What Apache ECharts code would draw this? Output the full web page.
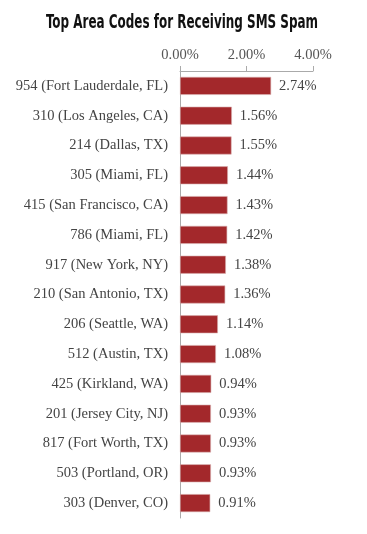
<!DOCTYPE html>
<html><head><meta charset="utf-8">
<script src="https://cdn.jsdelivr.net/npm/echarts@6/dist/echarts.min.js"></script>
<style>html,body{margin:0;padding:0;background:#fff}#c{width:367px;height:534px}</style>
</head><body><div id="c"></div>
<script>
const categories = ["954 (Fort Lauderdale, FL)","310 (Los Angeles, CA)","214 (Dallas, TX)","305 (Miami, FL)","415 (San Francisco, CA)","786 (Miami, FL)","917 (New York, NY)","210 (San Antonio, TX)","206 (Seattle, WA)","512 (Austin, TX)","425 (Kirkland, WA)","201 (Jersey City, NJ)","817 (Fort Worth, TX)","503 (Portland, OR)","303 (Denver, CO)"];
const values = [2.74,1.56,1.55,1.44,1.43,1.42,1.38,1.36,1.14,1.08,0.94,0.93,0.93,0.93,0.91];
const ticks = [0,2,4];
const font = "'Liberation Serif', 'DejaVu Serif', serif";
const chart = echarts.init(document.getElementById('c'));
chart.setOption({
  animation:false,
  graphic:[{type:'text',x:182,y:23,scaleX:0.7,scaleY:1,
    style:{text:"Top Area Codes for Receiving SMS Spam",align:'center',verticalAlign:'middle',
      font:"bold 19px 'DejaVu Sans Condensed','DejaVu Sans',sans-serif",fill:'#111'}}],
  grid:{left:180,right:54,top:71,bottom:16,containLabel:false},
  xAxis:{type:'value',position:'top',min:0,max:4,interval:2,
    axisLine:{show:true,lineStyle:{color:'#aaa'}},
    axisTick:{show:true,length:5,lineStyle:{color:'#aaa'}},
    splitLine:{show:false},
    axisLabel:{formatter:v=>v.toFixed(2)+'%',fontFamily:font,fontSize:14.5,color:'#555',margin:8}},
  yAxis:{type:'category',inverse:true,data:categories,
    axisLine:{show:true,lineStyle:{color:'#aaa'}},axisTick:{show:false},
    axisLabel:{fontFamily:font,fontSize:14.5,color:'#444',margin:12}},
  series:[{type:'bar',data:values,barWidth:18,
    itemStyle:{color:'#A3282B',borderColor:'#d9b0b0',borderWidth:0.6},
    label:{show:true,position:'right',distance:8,formatter:p=>p.value.toFixed(2)+'%',fontFamily:font,fontSize:14.5,color:'#444'}}]
});
</script></body></html>
